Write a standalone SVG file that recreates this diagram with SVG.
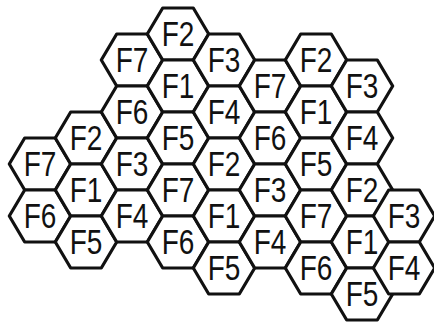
<svg xmlns="http://www.w3.org/2000/svg" xmlns:xlink="http://www.w3.org/1999/xlink" width="434" height="327" viewBox="0 0 434 327">
<style>
.cell{fill:#fff;stroke:#111;stroke-width:3.2;stroke-linejoin:round}
.lbl{font-family:"Liberation Sans","DejaVu Sans",sans-serif;font-size:28px;fill:#111;text-anchor:middle}
</style>
<defs>
<polygon id="hex" points="-30.7,0 -15.3,-26 15.3,-26 30.7,0 15.3,26 -15.3,26"/>
</defs>
<rect width="434" height="327" fill="#fff"/>
<g id="c0_2"><use href="#hex" class="cell" x="40" y="164"/><text class="lbl" transform="translate(40 176) scale(1 1.25)">F7</text></g>
<g id="c0_3"><use href="#hex" class="cell" x="40" y="216"/><text class="lbl" transform="translate(40 228) scale(1 1.25)">F6</text></g>
<g id="c1_2"><use href="#hex" class="cell" x="86" y="138"/><text class="lbl" transform="translate(86 150) scale(1 1.25)">F2</text></g>
<g id="c1_3"><use href="#hex" class="cell" x="86" y="190"/><text class="lbl" transform="translate(86 202) scale(1 1.25)">F1</text></g>
<g id="c1_4"><use href="#hex" class="cell" x="86" y="242"/><text class="lbl" transform="translate(86 254) scale(1 1.25)">F5</text></g>
<g id="c2_0"><use href="#hex" class="cell" x="132" y="60"/><text class="lbl" transform="translate(132 72) scale(1 1.25)">F7</text></g>
<g id="c2_1"><use href="#hex" class="cell" x="132" y="112"/><text class="lbl" transform="translate(132 124) scale(1 1.25)">F6</text></g>
<g id="c2_2"><use href="#hex" class="cell" x="132" y="164"/><text class="lbl" transform="translate(132 176) scale(1 1.25)">F3</text></g>
<g id="c2_3"><use href="#hex" class="cell" x="132" y="216"/><text class="lbl" transform="translate(132 228) scale(1 1.25)">F4</text></g>
<g id="c3_0"><use href="#hex" class="cell" x="178" y="34"/><text class="lbl" transform="translate(178 46) scale(1 1.25)">F2</text></g>
<g id="c3_1"><use href="#hex" class="cell" x="178" y="86"/><text class="lbl" transform="translate(178 98) scale(1 1.25)">F1</text></g>
<g id="c3_2"><use href="#hex" class="cell" x="178" y="138"/><text class="lbl" transform="translate(178 150) scale(1 1.25)">F5</text></g>
<g id="c3_3"><use href="#hex" class="cell" x="178" y="190"/><text class="lbl" transform="translate(178 202) scale(1 1.25)">F7</text></g>
<g id="c3_4"><use href="#hex" class="cell" x="178" y="242"/><text class="lbl" transform="translate(178 254) scale(1 1.25)">F6</text></g>
<g id="c4_0"><use href="#hex" class="cell" x="224" y="60"/><text class="lbl" transform="translate(224 72) scale(1 1.25)">F3</text></g>
<g id="c4_1"><use href="#hex" class="cell" x="224" y="112"/><text class="lbl" transform="translate(224 124) scale(1 1.25)">F4</text></g>
<g id="c4_2"><use href="#hex" class="cell" x="224" y="164"/><text class="lbl" transform="translate(224 176) scale(1 1.25)">F2</text></g>
<g id="c4_3"><use href="#hex" class="cell" x="224" y="216"/><text class="lbl" transform="translate(224 228) scale(1 1.25)">F1</text></g>
<g id="c4_4"><use href="#hex" class="cell" x="224" y="268"/><text class="lbl" transform="translate(224 280) scale(1 1.25)">F5</text></g>
<g id="c5_1"><use href="#hex" class="cell" x="270" y="86"/><text class="lbl" transform="translate(270 98) scale(1 1.25)">F7</text></g>
<g id="c5_2"><use href="#hex" class="cell" x="270" y="138"/><text class="lbl" transform="translate(270 150) scale(1 1.25)">F6</text></g>
<g id="c5_3"><use href="#hex" class="cell" x="270" y="190"/><text class="lbl" transform="translate(270 202) scale(1 1.25)">F3</text></g>
<g id="c5_4"><use href="#hex" class="cell" x="270" y="242"/><text class="lbl" transform="translate(270 254) scale(1 1.25)">F4</text></g>
<g id="c6_0"><use href="#hex" class="cell" x="316" y="60"/><text class="lbl" transform="translate(316 72) scale(1 1.25)">F2</text></g>
<g id="c6_1"><use href="#hex" class="cell" x="316" y="112"/><text class="lbl" transform="translate(316 124) scale(1 1.25)">F1</text></g>
<g id="c6_2"><use href="#hex" class="cell" x="316" y="164"/><text class="lbl" transform="translate(316 176) scale(1 1.25)">F5</text></g>
<g id="c6_3"><use href="#hex" class="cell" x="316" y="216"/><text class="lbl" transform="translate(316 228) scale(1 1.25)">F7</text></g>
<g id="c6_4"><use href="#hex" class="cell" x="316" y="268"/><text class="lbl" transform="translate(316 280) scale(1 1.25)">F6</text></g>
<g id="c7_1"><use href="#hex" class="cell" x="362" y="86"/><text class="lbl" transform="translate(362 98) scale(1 1.25)">F3</text></g>
<g id="c7_2"><use href="#hex" class="cell" x="362" y="138"/><text class="lbl" transform="translate(362 150) scale(1 1.25)">F4</text></g>
<g id="c7_3"><use href="#hex" class="cell" x="362" y="190"/><text class="lbl" transform="translate(362 202) scale(1 1.25)">F2</text></g>
<g id="c7_4"><use href="#hex" class="cell" x="362" y="242"/><text class="lbl" transform="translate(362 254) scale(1 1.25)">F1</text></g>
<g id="c7_5"><use href="#hex" class="cell" x="362" y="294"/><text class="lbl" transform="translate(362 306) scale(1 1.25)">F5</text></g>
<g id="c8_3"><use href="#hex" class="cell" x="404" y="216"/><text class="lbl" transform="translate(404 228) scale(1 1.25)">F3</text></g>
<g id="c8_4"><use href="#hex" class="cell" x="404" y="268"/><text class="lbl" transform="translate(404 280) scale(1 1.25)">F4</text></g>
<g id="connectors"/>
</svg>
